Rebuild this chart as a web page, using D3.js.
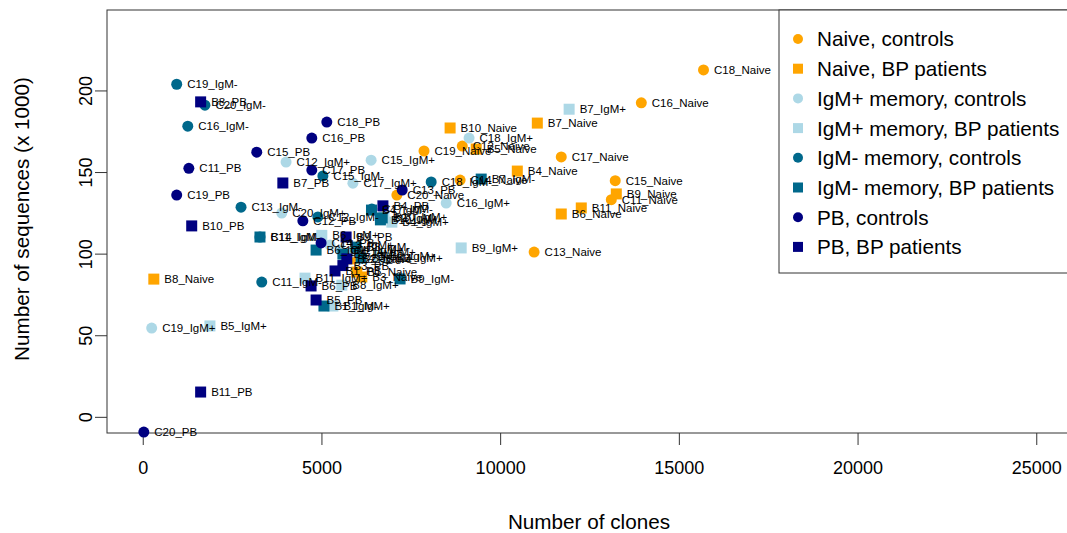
<!DOCTYPE html>
<html>
<head>
<meta charset="utf-8">
<script src="https://cdn.jsdelivr.net/npm/d3@7"></script>
<style>
  html, body { margin: 0; padding: 0; background: #fff; }
  svg { display: block; font-family: "Liberation Sans", Arial, sans-serif; }
</style>
</head>
<body>
<svg id="chart" width="1067" height="533"></svg>
<script>
// Clones (x) and sequences in thousands (y) per sample, one array per group.
const naiveCtrlNames = ["C18_Naive","C16_Naive","C17_Naive","C15_Naive","C11_Naive","C13_Naive","C19_Naive","C20_Naive","C12_Naive","C14_Naive"];
const naiveCtrlX     = [15690, 13950, 11710, 13220, 13110, 10950, 7870, 7110, 8940, 8880];
const naiveCtrlY     = [212.9, 192.7, 159.6, 145.0, 133.4, 101.3, 163.2, 136.2, 166.2, 145.4];

const naivePatNames = ["B10_Naive","B7_Naive","B4_Naive","B6_Naive","B11_Naive","B9_Naive","B8_Naive","B5_Naive","B2_Naive","B3_Naive","B1_Naive"];
const naivePatX     = [8600, 11040, 10480, 11710, 12270, 13250, 310, 9330, 5850, 6130, 5990];
const naivePatY     = [177.3, 180.3, 150.9, 124.6, 128.3, 136.9, 84.7, 164.4, 97.1, 86.0, 89.0];

const igmPlusCtrlNames = ["C19_IgM+","C12_IgM+","C15_IgM+","C17_IgM+","C18_IgM+","C16_IgM+","C20_IgM+","C11_IgM+","C13_IgM+","C14_IgM+"];
const igmPlusCtrlX     = [250, 4010, 6390, 5880, 9130, 8490, 3890, 5520, 5240, 5850];
const igmPlusCtrlY     = [54.7, 156.4, 157.6, 143.5, 171.1, 131.3, 125.2, 102.5, 105.6, 101.3];

const igmPlusPatNames = ["B7_IgM+","B9_IgM+","B5_IgM+","B4_IgM+","B10_IgM+","B6_IgM+","B8_IgM+","B11_IgM+","B1_IgM+","B2_IgM+","B3_IgM+"];
const igmPlusPatX     = [11930, 8910, 1880, 6970, 6750, 5010, 5570, 4540, 5320, 6610, 6800];
const igmPlusPatY     = [188.8, 103.8, 56.0, 119.6, 123.0, 111.5, 81.0, 85.3, 68.2, 98.9, 97.6];

const igmMinusCtrlNames = ["C19_IgM-","C20_IgM-","C16_IgM-","C13_IgM-","C15_IgM-","C18_IgM-","C11_IgM-","C14_IgM-","C17_IgM-","C12_IgM-"];
const igmMinusCtrlX     = [950, 1740, 1260, 2750, 5040, 8070, 3330, 3280, 6410, 4900];
const igmMinusCtrlY     = [204.1, 191.3, 178.4, 128.8, 147.9, 144.2, 82.9, 110.5, 127.6, 122.8];

const igmMinusPatNames = ["B7_IgM-","B11_IgM-","B2_IgM-","B6_IgM-","B9_IgM-","B1_IgM-","B3_IgM-","B8_IgM-","B4_IgM-","B5_IgM-","B10_IgM-"];
const igmMinusPatX     = [9470, 3280, 6700, 4850, 7200, 5070, 6110, 5970, 6400, 5600, 6650];
const igmMinusPatY     = [146.0, 110.5, 122.2, 102.5, 84.8, 68.2, 97.6, 104.3, 127.0, 100.0, 121.0];

const pbCtrlNames = ["C11_PB","C13_PB","C15_PB","C16_PB","C18_PB","C19_PB","C20_PB","C17_PB","C12_PB","C14_PB"];
const pbCtrlX     = [1290, 7260, 3190, 4730, 5150, 950, 30, 4730, 4480, 4990];
const pbCtrlY     = [152.6, 139.3, 162.5, 171.1, 180.9, 136.2, -9.0, 151.5, 120.4, 106.9];

const pbPatNames = ["B8_PB","B7_PB","B10_PB","B11_PB","B4_PB","B9_PB","B2_PB","B1_PB","B6_PB","B5_PB","B3_PB"];
const pbPatX     = [1620, 3920, 1370, 1620, 6720, 5690, 5710, 5380, 4710, 4850, 5600];
const pbPatY     = [193.3, 143.6, 117.3, 15.5, 129.6, 110.5, 97.1, 89.7, 80.5, 71.9, 93.0];

const xTicks = [0, 5000, 10000, 15000, 20000, 25000];
const yTicks = [0, 50, 100, 150, 200];

const legendLabels = ["Naive, controls","Naive, BP patients","IgM+ memory, controls","IgM+ memory, BP patients",
                      "IgM- memory, controls","IgM- memory, BP patients","PB, controls","PB, BP patients"];
const groupColors = ["#FFA500","#FFA500","#ADD8E6","#ADD8E6","#00688B","#00688B","#000080","#000080"];
const groupShapes = ["circle","square","circle","square","circle","square","circle","square"];

const groups = [
  [naiveCtrlNames, naiveCtrlX, naiveCtrlY],
  [naivePatNames, naivePatX, naivePatY],
  [igmPlusCtrlNames, igmPlusCtrlX, igmPlusCtrlY],
  [igmPlusPatNames, igmPlusPatX, igmPlusPatY],
  [igmMinusCtrlNames, igmMinusCtrlX, igmMinusCtrlY],
  [igmMinusPatNames, igmMinusPatX, igmMinusPatY],
  [pbCtrlNames, pbCtrlX, pbCtrlY],
  [pbPatNames, pbPatX, pbPatY]
].map((g, i) => g[0].map((name, j) => ({
  name, x: g[1][j], y: g[2][j], color: groupColors[i], shape: groupShapes[i]
})));

const svg = d3.select("#chart");
const plot = { left: 107, right: 1072, top: 10, bottom: 433 };

const x = d3.scaleLinear().domain([-1000, 26000]).range([plot.left, plot.right]);
const y = d3.scaleLinear().domain([-9.6, 249.6]).range([plot.bottom, plot.top]);

// Axes
const xAxis = svg.append("g").attr("transform", `translate(0,${plot.bottom})`)
  .call(d3.axisBottom(x).tickValues(xTicks).tickFormat(d3.format("d")).tickSize(12).tickPadding(16));
xAxis.select(".domain").remove();
xAxis.selectAll("text").attr("font-size", 18).attr("fill", "#000");
xAxis.selectAll("line").attr("stroke", "#333");

const yAxis = svg.append("g").attr("transform", `translate(${plot.left},0)`)
  .call(d3.axisLeft(y).tickValues(yTicks).tickSize(12).tickPadding(8));
yAxis.select(".domain").remove();
yAxis.selectAll("line").attr("stroke", "#333");
yAxis.selectAll("text").attr("font-size", 18).attr("fill", "#000")
  .attr("text-anchor", "middle")
  .attr("transform", d => `rotate(-90, ${-21}, ${y(d)})`)
  .attr("x", -21).attr("y", d => y(d)).attr("dy", "0.35em");
yAxis.selectAll(".tick").attr("transform", null);
yAxis.selectAll(".tick line").attr("y1", d => y(d)).attr("y2", d => y(d));

// Plot frame
svg.append("rect").attr("x", plot.left).attr("y", plot.top)
  .attr("width", plot.right - plot.left).attr("height", plot.bottom - plot.top)
  .attr("fill", "none").attr("stroke", "#333").attr("stroke-width", 1);

// Titles
svg.append("text").attr("x", 589).attr("y", 529).attr("text-anchor", "middle")
  .attr("font-size", 20.7).text("Number of clones");
svg.append("text").attr("transform", "translate(29,219) rotate(-90)")
  .attr("text-anchor", "middle").attr("font-size", 20.7).text("Number of sequences (x 1000)");

// Points and labels
const layer = svg.append("g");
groups.forEach(g => {
  g.forEach(d => {
    if (d.shape === "circle") {
      layer.append("circle").attr("cx", x(d.x)).attr("cy", y(d.y)).attr("r", 5.5).attr("fill", d.color);
    } else {
      layer.append("rect").attr("x", x(d.x) - 5.5).attr("y", y(d.y) - 5.5)
        .attr("width", 11).attr("height", 11).attr("fill", d.color);
    }
  });
});
groups.forEach(g => {
  g.forEach(d => {
    layer.append("text").attr("x", x(d.x) + 10.5).attr("y", y(d.y)).attr("dy", "0.35em")
      .attr("font-size", 11.5).attr("fill", "#000").text(d.name);
  });
});

// Legend
const leg = svg.append("g");
leg.append("rect").attr("x", 779).attr("y", 10).attr("width", 300).attr("height", 263)
  .attr("fill", "#fff").attr("stroke", "#333");
legendLabels.forEach((lab, i) => {
  const cy = 39 + i * 29.7;
  if (groupShapes[i] === "circle") {
    leg.append("circle").attr("cx", 798).attr("cy", cy).attr("r", 5).attr("fill", groupColors[i]);
  } else {
    leg.append("rect").attr("x", 793).attr("y", cy - 5).attr("width", 10).attr("height", 10).attr("fill", groupColors[i]);
  }
  leg.append("text").attr("x", 817).attr("y", cy).attr("dy", "0.36em").attr("font-size", 20.7).text(lab);
});
</script>
</body>
</html>
